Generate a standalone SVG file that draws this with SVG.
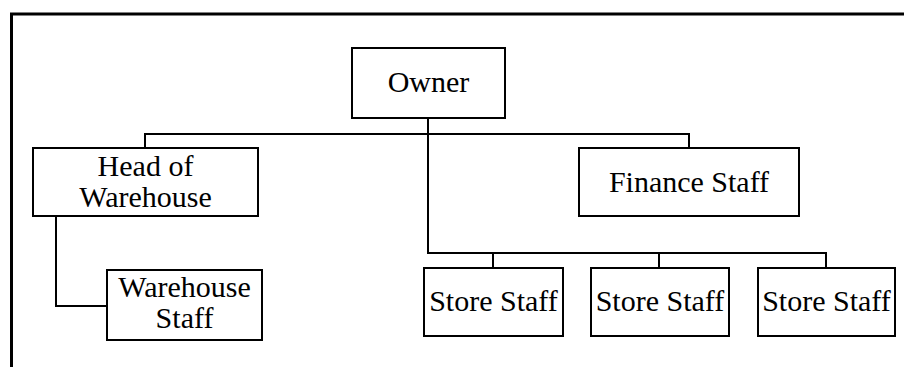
<svg xmlns="http://www.w3.org/2000/svg" width="904" height="367" viewBox="0 0 904 367">
<style>
.box{fill:#fff;stroke:#000;stroke-width:2}
.ln{fill:none;stroke:#000;stroke-width:2}
text{font-family:"Liberation Serif","Times New Roman",serif;font-size:30px;fill:#000;text-anchor:middle}
</style>
<rect width="904" height="367" fill="#fff"/>
<path d="M11.5 367 V14 H904" fill="none" stroke="#000" stroke-width="3"/>
<g id="connectors">
<path class="ln" d="M428 118 V253 H826 V268 M493 253 V268 M659 253 V268"/>
<path class="ln" d="M145 148 V134 H689 V148"/>
<path class="ln" d="M56 216 V306 H107"/>
</g>
<g id="owner"><rect class="box" x="352" y="48" width="153" height="70"/><text x="428.5" y="92">Owner</text></g>
<g id="head"><rect class="box" x="33" y="148" width="225" height="68"/><text x="145.5" y="176">Head of</text><text x="145.5" y="207">Warehouse</text></g>
<g id="finance"><rect class="box" x="579" y="148" width="220" height="68"/><text x="689" y="192">Finance Staff</text></g>
<g id="wstaff"><rect class="box" x="107" y="270" width="155" height="70"/><text x="184.5" y="297">Warehouse</text><text x="184.5" y="328">Staff</text></g>
<g id="store1"><rect class="box" x="424" y="268" width="139" height="68"/><text x="493.5" y="311">Store Staff</text></g>
<g id="store2"><rect class="box" x="591" y="268" width="138" height="68"/><text x="660" y="311">Store Staff</text></g>
<g id="store3"><rect class="box" x="758" y="268" width="137" height="68"/><text x="826.5" y="311">Store Staff</text></g>
</svg>
